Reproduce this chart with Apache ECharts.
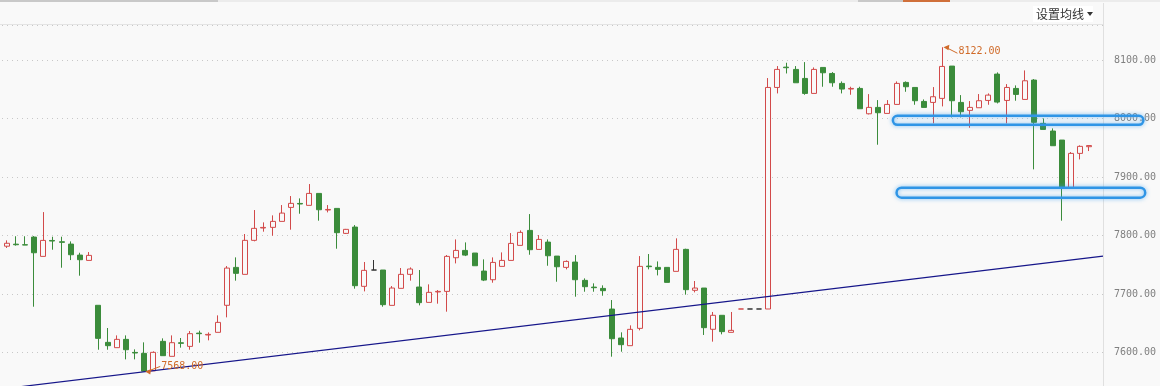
<!DOCTYPE html>
<html><head><meta charset="utf-8">
<script src="https://cdn.jsdelivr.net/npm/echarts@6/dist/echarts.min.js"></script>
<style>html,body{margin:0;padding:0;background:#f9f9f9}#c{width:1160px;height:386px}</style>
</head><body><div id="c"></div>
<script>
// ---- data ----
const opens = [7782,7785.5,7784.5,7797.6,7764.6,7791.8,7789.6,7785.6,7766.8,7757.7,
7681,7617.7,7608.6,7622.8,7600.5,7598.9,7569,7619.4,7593.8,7617,
7610.8,7633.5,7630.3,7634.8,7681,7745.8,7733.9,7792,7813.1,7814.2,
7824.4,7848.3,7855.1,7851.8,7872.2,7843.8,7846.6,7803.9,7814.7,7713.4,
7741.3,7741.3,7680.9,7710,7733.9,7712.2,7686,7703.8,7704.8,7762.3,
7774.8,7770.3,7739.5,7724.7,7747.5,7757.7,7783.4,7809,7776.5,7789,
7765.1,7745.8,7754.9,7723.6,7712.1,7709.9,7674.6,7625.1,7612,7641.6,
7748,7745.8,7745.8,7739,7776.6,7706.6,7710.5,7640,7663.9,7634.8,
7674.7,7674.7,7674.7,7674.7,8053.3,8088,8084.1,8068.7,8043.1,8087.5,
8077.2,8060.2,8050.6,8051.6,8008.3,8019.2,8008.9,8024.3,8061.9,8053.3,
8029.4,8027.7,8034.6,8089.8,8027.7,8014.1,8018.6,8031.1,8076.1,8031.1,
8051.6,8032.8,8065.9,7991.9,7978.8,7963.4,7880.8,7940.6,7952];
const closes = [7787,7784.5,7784,7770.8,7791.9,7790.8,7788.6,7767.4,7758.9,7766.3,
7624.5,7612,7622.8,7605.1,7599.5,7568.5,7600.6,7594.9,7617.1,7616,
7632.5,7632.5,7631.3,7651.8,7744.6,7735.6,7792,7812.5,7814.1,7824.4,
7838.6,7855.2,7854.1,7872.2,7844.3,7844.8,7805.1,7810.8,7714.5,7740.7,
7741.3,7682.1,7710.5,7733.9,7743,7685.5,7703.1,7704.8,7764.6,7774.8,
7766.8,7748.6,7724.1,7754.3,7757.7,7786.8,7805.6,7776,7793.6,7765.7,
7746.9,7756,7724.7,7712.8,7711.1,7706,7623.9,7613.7,7639.9,7747.5,
7747,7742.4,7720.2,7776.6,7707.7,7710.5,7642.8,7663.9,7636,7638.2,
7674.7,7674.7,7674.7,8053.3,8084.1,8087,8061.3,8043.1,8084.1,8078.4,
8061.3,8050.5,8051.6,8016.9,8019.2,8010.1,8024.3,8060.2,8054.5,8030.6,
8019.2,8037.4,8089.2,8030.6,8011.8,8019.2,8030.6,8040.2,8028.3,8053.3,
8041.4,8064.7,7993.6,7981.6,7953.7,7880.8,7940.6,7952.6,7954];
const lows = [7779,7783,7784,7678.6,7764.6,7776,7745.2,7758.3,7731.6,7757.7,
7605.1,7605.1,7608.6,7588.6,7588.6,7568,7569,7594.9,7593.8,7608.6,
7605.1,7617.1,7621.1,7634.8,7660.4,7723.1,7733.9,7790.3,7806.8,7799.9,
7824.4,7810.2,7837.5,7851.8,7825.6,7839.8,7777.7,7802.8,7709.4,7704.8,
7741.3,7678.6,7680.9,7710,7723.1,7680.9,7686,7683.8,7670.1,7752.6,
7765.1,7748.6,7722.4,7719.6,7747.5,7757.7,7783.4,7767.4,7776.5,7748.6,
7721.3,7742.4,7695.7,7704.2,7704.2,7697.4,7593.2,7601.7,7612,7638.2,
7742.4,7732.1,7720.2,7739,7699.2,7703.1,7630.3,7618.9,7631.4,7634.8,
7674.7,7674.7,7674.7,7674.7,8043.1,8077.2,8061.3,8040.8,8043.1,8054.5,
8054.5,8043.1,8040.8,8016.9,8007.2,7955.4,8008.9,8024.3,8045.9,8023.7,
8019.2,7991.9,8020.9,8002.1,8002.1,7984.4,8018.6,8023.7,8026,7991.9,
8030.6,8032.8,7913.3,7981.6,7953.7,7825.6,7880.8,7930.3,7944.6];
const highs = [7792,7799,7799,7799.3,7840.3,7798.2,7798.2,7790.2,7770.8,7772,
7681,7642.2,7629.6,7629.6,7605.7,7617.7,7602.3,7624.5,7629.6,7625.1,
7637,7637.6,7634.7,7663.8,7748.1,7762.9,7802.8,7843.8,7822.7,7834.7,
7852.3,7867.7,7863.7,7888.2,7872.2,7852.3,7846.6,7811.5,7818.1,7755,
7758.4,7741.3,7713.9,7744.7,7745.8,7741.3,7716.8,7707.1,7766.9,7793.6,
7788.5,7770.3,7759.5,7762.9,7771.4,7804.4,7809,7836.9,7801,7793.6,
7765.1,7757.7,7766.8,7727,7718.5,7715.1,7690,7634.8,7646.7,7765.1,
7768.6,7756,7745.8,7795.4,7777.7,7722.5,7710.5,7669.6,7663.9,7669.6,
7674.7,7674.7,7674.7,8069.3,8089.8,8095.5,8089.8,8096.6,8087.5,8087.5,
8079.5,8063.6,8054.5,8054.5,8041.9,8031.7,8031.7,8063.6,8063.6,8053.3,
8032.8,8053.9,8122,8089.8,8040.2,8030,8042,8043.1,8079,8059,
8056.8,8082.4,8067.6,8000.4,7983.3,7963.4,7942.9,7954.3,7954];
const categories = Array.from({length: 120}, (_, i) => 'K' + (i + 1));
const flatRed = [80];          // flat candles drawn red
const flatBlack = [40, 81, 82]; // flat candles drawn dark
// visible value range of the price axis
const yMin = 7543.1, yMax = 8160;
// trend line end values (value-axis units 0..120 across the plot)
const trendX = [0, 120];
const trendY = [7538.1, 7764.9];
// highlight boxes: [xStart, xEnd, valueTop, valueBottom]
const boxes = [[97.1, 124.4, 8004.8, 7989.4], [97.5, 124.6, 7882, 7865]];

// ---- styles ----
const RED = '#d24a4a', GREEN = '#3b8c3b', BLACK = '#333333', BG = '#f9f9f9';

const candleData = opens.map((o, i) => {
  const item = {value: [o, closes[i], lows[i], highs[i]]};
  let c = null;
  if (flatRed.includes(i)) c = RED;
  if (flatBlack.includes(i)) c = BLACK;
  if (c) item.itemStyle = {color: c, color0: c, borderColor: c, borderColor0: c, borderColorDoji: c};
  return item;
});

const chart = echarts.init(document.getElementById('c'));
chart.setOption({
  animation: false,
  backgroundColor: BG,
  grid: {left: 2, right: 57, top: 25, bottom: 0},
  xAxis: [
    {type: 'category', data: categories, boundaryGap: true, show: false},
    {type: 'value', min: 0, max: 120, show: false}
  ],
  yAxis: {
    type: 'value', position: 'right', min: yMin, max: yMax, splitNumber: 5,
    axisLine: {show: false}, axisTick: {show: false},
    axisLabel: {
      show: true, showMaxLabel: false, showMinLabel: false, margin: 11,
      color: '#808080', fontFamily: 'DejaVu Sans Mono', fontSize: 10,
      formatter: v => (v % 100 === 0 ? v.toFixed(2) : '')
    },
    splitLine: {show: true, lineStyle: {color: '#c8c8c8', type: [1, 4], width: 1}}
  },
  series: [
    {
      type: 'candlestick', data: candleData, barWidth: 5.5,
      itemStyle: {color: BG, color0: GREEN, borderColor: RED, borderColor0: GREEN, borderWidth: 1}
    },
    {
      type: 'line', xAxisIndex: 1, data: trendX.map((x, i) => [x, trendY[i]]),
      symbol: 'none', z: 5, lineStyle: {color: '#16168a', width: 1.2}
    }
  ]
});

// ---- overlays computed through the chart's own scales ----
const g = [];
g.push({type: 'rect', shape: {x: 0, y: 0, width: 1160, height: 2}, style: {fill: '#ececec'}, z: 10});
g.push({type: 'rect', shape: {x: 0, y: 0, width: 218, height: 2}, style: {fill: '#c9c9c9'}, z: 11});
g.push({type: 'rect', shape: {x: 858, y: 0, width: 45, height: 2}, style: {fill: '#c9c9c9'}, z: 11});
g.push({type: 'rect', shape: {x: 903, y: 0, width: 47, height: 2}, style: {fill: '#d0703a'}, z: 11});
g.push({type: 'line', shape: {x1: 0, y1: 24.5, x2: 1103, y2: 24.5}, style: {stroke: '#e4e4e4', lineWidth: 1}, z: 10});
g.push({type: 'line', shape: {x1: 1103.5, y1: 3, x2: 1103.5, y2: 386}, style: {stroke: '#e0e0e0', lineWidth: 1}, z: 10});
g.push({type: 'rect', shape: {x: 1033, y: 6, width: 60, height: 16}, style: {fill: '#ffffff'}, z: 10});
g.push({type: 'text', x: 1036, y: 14, style: {text: '设置均线', fill: '#333', font: '12px "Noto Sans CJK SC"', verticalAlign: 'middle'}, z: 11});
g.push({type: 'polygon', shape: {points: [[1087, 12], [1093, 12], [1090, 16]]}, style: {fill: '#333'}, z: 11});

// highlight boxes
boxes.forEach(b => {
  const p0 = chart.convertToPixel({xAxisIndex: 1, yAxisIndex: 0}, [b[0], b[2]]);
  const p1 = chart.convertToPixel({xAxisIndex: 1, yAxisIndex: 0}, [b[1], b[3]]);
  g.push({type: 'rect', shape: {x: p0[0], y: p0[1], width: p1[0] - p0[0], height: p1[1] - p0[1], r: 5},
    style: {fill: 'rgba(0,0,0,0)', stroke: '#2f95e6', lineWidth: 2.5, shadowBlur: 4, shadowColor: 'rgba(60,160,240,0.7)'}, z: 20});
});

// max / min annotations
let hiI = 0, loI = 0;
highs.forEach((h, i) => { if (h > highs[hiI]) hiI = i; });
lows.forEach((l, i) => { if (l < lows[loI]) loI = i; });
const ORANGE = '#d06a28';
function note(idx, val, dx, dy, up) {
  const p = chart.convertToPixel({xAxisIndex: 0, yAxisIndex: 0}, [idx, val]);
  const x = p[0] + 1, y = p[1];
  g.push({type: 'polygon', shape: {points: [[x, y], [x + 6, y - 2.5], [x + 5, y + 3]]}, style: {fill: ORANGE}, z: 15});
  g.push({type: 'line', shape: {x1: x + 4, y1: y + dy * 0.15, x2: x + dx, y2: y + dy}, style: {stroke: ORANGE, lineWidth: 1}, z: 15});
  g.push({type: 'text', x: x + dx + 1, y: y + dy + (up ? 0 : -2), style: {text: val.toFixed(2), fill: ORANGE, font: '10px "DejaVu Sans Mono"', verticalAlign: 'middle'}, z: 15});
}
note(hiI, highs[hiI], 14, 6, false);
note(loI, lows[loI], 15, -5, true);

chart.setOption({graphic: g});
</script>
</body></html>
